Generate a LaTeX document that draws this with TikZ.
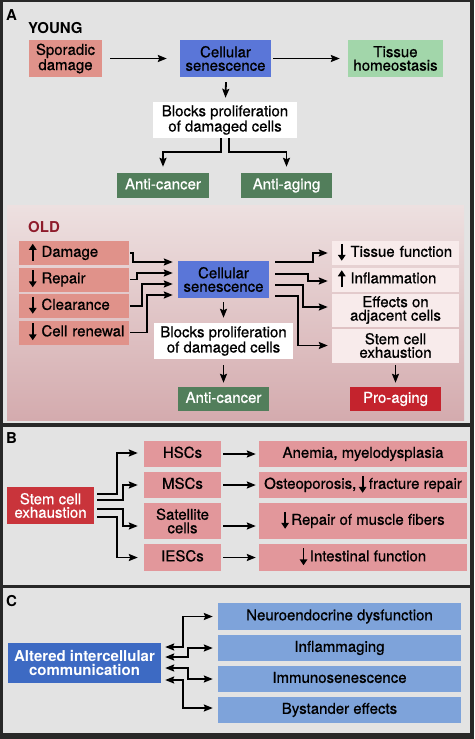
\documentclass[tikz,border=0pt]{standalone}
\usepackage{fontspec}
\setmainfont{TeX Gyre Heros}
\newfontfamily\medfont{TeX Gyre Heros}[FakeBold=0.7]
\usetikzlibrary{arrows.meta,calc}
\definecolor{bord}{HTML}{282828}
\definecolor{panel}{HTML}{E3E3E3}
\definecolor{salmon}{HTML}{E0928A}
\definecolor{csblue}{HTML}{5A76D8}
\definecolor{tgreen}{HTML}{A2D6AA}
\definecolor{dgreen}{HTML}{527E5B}
\definecolor{oldred}{HTML}{8E1B2B}
\definecolor{lpink}{HTML}{F8EBEB}
\definecolor{pared}{HTML}{C4232D}
\definecolor{sred}{HTML}{C9343B}
\definecolor{bpink}{HTML}{E2979B}
\definecolor{cblue}{HTML}{3D6AC3}
\definecolor{lblue}{HTML}{7EA3DA}
\definecolor{oldtop}{HTML}{EDE0E0}
\definecolor{oldbot}{HTML}{D4ABAE}
\newcommand\fs{\medfont\fontsize{15}{13.5}\selectfont}
\newcommand\uparr{\tikz[baseline=0pt]\draw[line width=1.9pt,-{Triangle[length=6pt,width=7.5pt]}] (0pt,-4pt) -- (0pt,13pt);}
\newcommand\dnarr{\tikz[baseline=0pt]\draw[line width=1.9pt,-{Triangle[length=6pt,width=7.5pt]}] (0pt,13pt) -- (0pt,-4pt);}
\begin{document}
\begin{tikzpicture}[x=1pt,y=-1pt,
  box/.style={inner sep=0pt, align=center, font=\fs, text=black},
  one/.style={text height=10.8pt, text depth=3.2pt},
  sz/.style 2 args={minimum width=#1pt, minimum height=#2pt},
  lbox/.style={text width=106pt, align=left},
  rbox/.style={text width=123pt, align=left},
  arr/.style={line width=1.8pt, -{Stealth[length=9pt,width=7pt,inset=1.5pt]}},
  darr/.style={line width=1.8pt, {Stealth[length=9pt,width=7pt,inset=1.5pt]}-{Stealth[length=9pt,width=7pt,inset=1.5pt]}},
  lab/.style={font=\bfseries\fontsize{15}{15}\selectfont, anchor=base west, inner sep=0pt}]
\useasboundingbox (0,0) rectangle (474,739);
\fill[bord] (0,0) rectangle (474,739);
\fill[panel] (3,2) rectangle (470,423);
\fill[panel] (3,427) rectangle (470,585);
\fill[panel] (3,588) rectangle (470,733);
\shade[top color=oldtop, bottom color=oldbot] (7,205) rectangle (464,420);

% ---------- Panel A: young
\node[lab] (la) at (6,20) {A};
\node[lab] (young) at (28,33) {YOUNG};
\node[box,fill=salmon,sz={73}{37}] (spor) at (65.5,58.5) {Sporadic\\damage};
\node[box,fill=csblue,sz={91}{37}] (cs1) at (225.5,58.5) {Cellular\\senescence};
\node[box,fill=tgreen,sz={95}{37}] (tis) at (395.5,58.5) {Tissue\\homeostasis};
\node[box,fill=white,sz={144}{36}] (blk1) at (225,120) {Blocks proliferation\\of damaged cells};
\node[box,one,fill=dgreen,text=white,sz={92}{25}] (ac1) at (163,185.5) {Anti-cancer};
\node[box,one,fill=dgreen,text=white,sz={91}{25}] (aa1) at (286.5,185.5) {Anti-aging};
\draw[arr] ([xshift=8pt]spor.east) -- ([xshift=-13pt]cs1.west);
\draw[arr] ([xshift=2pt]cs1.east) -- ([xshift=-8pt]tis.west);
\draw[arr] ([xshift=0.5pt,yshift=-5pt]cs1.south) -- ([xshift=0.5pt,yshift=4pt]blk1.north);
\draw[arr] ([xshift=-4pt]blk1.south) -- ++(0,14) -| ([yshift=6pt]ac1.north);
\draw[arr] ([xshift=4pt]blk1.south) -- ++(0,14) -| ([yshift=6pt]aa1.north);

% ---------- Panel A: old
\node[lab,text=oldred] (old) at (28,232) {OLD};
\node[box,one,lbox,fill=salmon,sz={110}{24}] (dmg) at (74,253) {\hspace*{8pt}\mbox{\uparr\ Damage}};
\node[box,one,lbox,fill=salmon,sz={110}{24}] (rep) at (74,279.5) {\hspace*{8pt}\mbox{\dnarr\ Repair}};
\node[box,one,lbox,fill=salmon,sz={110}{24}] (clr) at (74,306) {\hspace*{8pt}\mbox{\dnarr\ Clearance}};
\node[box,one,lbox,fill=salmon,sz={110}{24}] (ren) at (74,332.5) {\hspace*{8pt}\mbox{\dnarr\ Cell renewal}};
\node[box,fill=csblue,sz={91}{37}] (cs2) at (223.5,279.5) {Cellular\\senescence};
\node[box,fill=white,sz={139}{36}] (blk2) at (223.5,341) {Blocks proliferation\\of damaged cells};
\node[box,one,fill=dgreen,text=white,sz={91}{24}] (ac2) at (223.5,399) {Anti-cancer};
\node[box,one,rbox,fill=lpink,sz={127}{24}] (tf) at (395.5,253) {\hspace*{4pt}\mbox{\dnarr\ Tissue function}};
\node[box,one,rbox,fill=lpink,sz={127}{24}] (inf) at (395.5,279.5) {\hspace*{4pt}\mbox{\uparr\ Inflammation}};
\node[box,fill=lpink,sz={127}{33}] (eff) at (395.5,310) {Effects on\\adjacent cells};
\node[box,fill=lpink,sz={127}{34}] (stm) at (395.5,345.5) {Stem cell\\exhaustion};
\node[box,one,fill=pared,text=white,sz={91}{24}] (pa) at (395.5,399) {Pro-aging};
\draw[arr] ([xshift=1pt]dmg.east) -- ++(3,0) |- ([xshift=-5pt,yshift=17.5pt]cs2.west);
\draw[arr] ([xshift=1pt]rep.east) -- ++(7,0) |- ([xshift=-5pt,yshift=6.5pt]cs2.west);
\draw[arr] ([xshift=1pt]clr.east) -- ++(12,0) |- ([xshift=-5pt,yshift=-4.5pt]cs2.west);
\draw[arr] ([xshift=1pt]ren.east) -- ++(17,0) |- ([xshift=-5pt,yshift=-15.5pt]cs2.west);
\draw[arr] ([xshift=6pt,yshift=17.5pt]cs2.east) -- ++(38,0) |- ([xshift=-4pt]tf.west);
\draw[arr] ([xshift=6pt,yshift=5.5pt]cs2.east) -- ++(33,0) |- ([xshift=-4pt,yshift=-1.5pt]inf.west);
\draw[arr] ([xshift=6pt,yshift=-5.5pt]cs2.east) -- ++(28,0) |- ([xshift=-4pt,yshift=3pt]eff.west);
\draw[arr] ([xshift=6pt,yshift=-16.5pt]cs2.east) -- ++(23,0) |- ([xshift=-4pt]stm.west);
\draw[arr] ([yshift=-4pt]cs2.south) -- ([yshift=5pt]blk2.north);
\draw[arr] ([yshift=-6pt]blk2.south) -- ([yshift=4pt]ac2.north);
\draw[arr] ([yshift=-2.5pt]stm.south) -- ([yshift=4pt]pa.north);

% ---------- Panel B
\node[lab] (lb) at (6,443) {B};
\node[box,fill=sred,text=white,sz={87}{37}] (sce) at (50.5,505.5) {Stem cell\\exhaustion};
\node[box,one,fill=bpink,sz={77}{26}] (hsc) at (182.5,454) {HSCs};
\node[box,one,fill=bpink,sz={77}{26}] (msc) at (182.5,485) {MSCs};
\node[box,fill=bpink,sz={77}{36}] (sat) at (182.5,521) {Satellite\\cells};
\node[box,one,fill=bpink,sz={77}{27}] (ies) at (182.5,557.5) {IESCs};
\node[box,one,fill=bpink,sz={208}{26}] (r1) at (363,454) {Anemia, myelodysplasia};
\node[box,one,fill=bpink,sz={208}{26}] (r2) at (363,485) {Osteoporosis,\,\dnarr\,fracture repair};
\node[box,one,fill=bpink,sz={208}{36}] (r3) at (363,521) {\dnarr\,Repair of muscle fibers};
\node[box,one,fill=bpink,sz={208}{27}] (r4) at (363,557.5) {\dnarr\,Intestinal function};
\draw[arr] ([xshift=3pt,yshift=11.5pt]sce.east) -- ++(20,0) |- ([xshift=-6pt,yshift=1pt]hsc.west);
\draw[arr] ([xshift=3pt,yshift=5.5pt]sce.east) -- ++(26,0) |- ([xshift=-6pt]msc.west);
\draw[arr] ([xshift=3pt,yshift=-3.5pt]sce.east) -- ++(26,0) |- ([xshift=-6pt,yshift=-5pt]sat.west);
\draw[arr] ([xshift=3pt,yshift=-11.5pt]sce.east) -- ++(20,0) |- ([xshift=-6pt]ies.west);
\draw[arr] ([xshift=2pt]hsc.east) -- ([xshift=-3pt]r1.west);
\draw[arr] ([xshift=2pt]msc.east) -- ([xshift=-3pt]r2.west);
\draw[arr] ([xshift=2pt,yshift=-5pt]sat.east) -- ([xshift=-3pt,yshift=-5pt]r3.west);
\draw[arr] ([xshift=2pt]ies.east) -- ([xshift=-3pt]r4.west);

% ---------- Panel C
\node[lab] (lc) at (6,606.5) {C};
\node[box,fill=cblue,text=white,font=\bfseries\fontsize{15}{13.5}\selectfont,sz={153}{40}] (aic) at (84.5,663) {Altered intercellular\\communication};
\node[box,one,fill=lblue,sz={243}{27}] (neu) at (339.5,616.5) {Neuroendocrine dysfunction};
\node[box,one,fill=lblue,sz={243}{26}] (ifg) at (339.5,648) {Inflammaging};
\node[box,one,fill=lblue,sz={243}{26}] (imm) at (339.5,679) {Immunosenescence};
\node[box,one,fill=lblue,sz={243}{26}] (bys) at (339.5,710) {Bystander effects};
\draw[darr] ([xshift=4pt,yshift=16pt]aic.east) -- ++(18,0) |- ([xshift=-5pt]neu.west);
\draw[darr] ([xshift=4pt,yshift=6pt]aic.east) -- ++(23,0) |- ([xshift=-5pt]ifg.west);
\draw[darr] ([xshift=4pt,yshift=-5pt]aic.east) -- ++(23,0) |- ([xshift=-5pt]imm.west);
\draw[darr] ([xshift=4pt,yshift=-17pt]aic.east) -- ++(18,0) |- ([xshift=-5pt,yshift=2pt]bys.west);
\end{tikzpicture}
\end{document}
